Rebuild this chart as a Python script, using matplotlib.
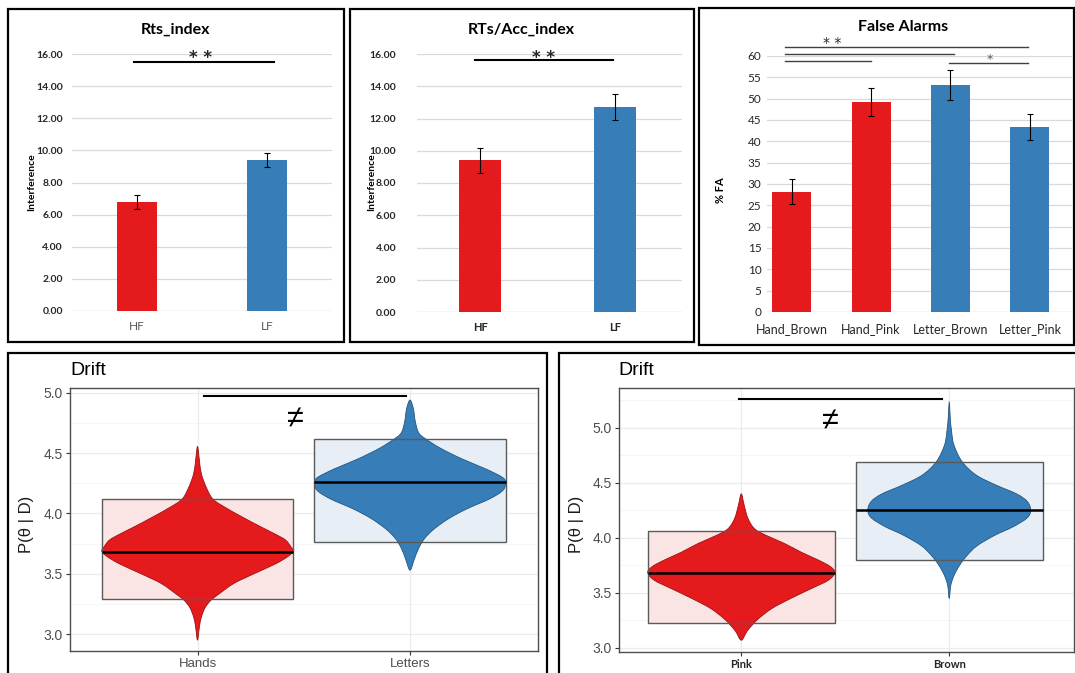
import numpy as np
import matplotlib
matplotlib.use("Agg")
import matplotlib.pyplot as plt
from matplotlib.patches import Rectangle, PathPatch
from matplotlib.path import Path

# ---------------- data ----------------
rts_groups = ["HF", "LF"]
rts_means = [6.8, 9.4]
rts_errs = [0.45, 0.45]

acc_groups = ["HF", "LF"]
acc_means = [9.4, 12.7]
acc_errs = [0.75, 0.8]

fa_groups = ["Hand_Brown", "Hand_Pink", "Letter_Brown", "Letter_Pink"]
fa_means = [28.2, 49.2, 53.2, 43.3]
fa_errs = [3.0, 3.2, 3.5, 3.0]

# Drift posteriors: summary (mean, HDI) and density profile (value, relative density)
task_groups = ["Hands", "Letters"]
task_means = [3.68, 4.26]
task_hdi_low = [3.29, 3.76]
task_hdi_high = [4.12, 4.62]

hands_vals = [2.95, 3.06, 3.14, 3.22, 3.28, 3.33, 3.42, 3.50, 3.58, 3.64, 3.685,
              3.72, 3.78, 3.83, 3.89, 3.97, 4.05, 4.12, 4.22, 4.33, 4.44, 4.555]
hands_dens = [0.0, 0.02, 0.04, 0.08, 0.14, 0.22, 0.38, 0.59, 0.81, 0.94, 1.0,
              0.98, 0.92, 0.81, 0.66, 0.47, 0.29, 0.16, 0.09, 0.04, 0.02, 0.0]

letters_vals = [3.53, 3.62, 3.71, 3.79, 3.87, 3.96, 4.04, 4.12, 4.19, 4.255,
                4.30, 4.37, 4.45, 4.54, 4.62, 4.67, 4.76, 4.87, 4.94]
letters_dens = [0.0, 0.045, 0.09, 0.15, 0.25, 0.41, 0.60, 0.83, 0.97, 1.0,
                0.965, 0.79, 0.55, 0.32, 0.16, 0.09, 0.056, 0.035, 0.0]

color_groups = ["Pink", "Brown"]
color_means = [3.68, 4.25]
color_hdi_low = [3.23, 3.80]
color_hdi_high = [4.06, 4.69]

pink_vals = [3.07, 3.15, 3.21, 3.27, 3.36, 3.45, 3.54, 3.615, 3.685, 3.74,
             3.80, 3.87, 3.95, 4.025, 4.085, 4.18, 4.30, 4.40]
pink_dens = [0.0, 0.06, 0.12, 0.19, 0.33, 0.53, 0.75, 0.93, 1.0, 0.95,
             0.82, 0.64, 0.46, 0.26, 0.14, 0.07, 0.03, 0.0]

brown_vals = [3.45, 3.57, 3.66, 3.75, 3.84, 3.93, 4.025, 4.10, 4.18, 4.25,
              4.33, 4.40, 4.48, 4.57, 4.69, 4.84, 4.96, 5.10, 5.24]
brown_dens = [0.0, 0.017, 0.052, 0.11, 0.19, 0.30, 0.49, 0.68, 0.83, 0.87,
              0.835, 0.72, 0.50, 0.29, 0.14, 0.052, 0.026, 0.01, 0.0]

# ---------------- style ----------------
RED = "#e41a1c"
BLUE = "#377eb8"
RED_EDGE = "#9c1214"
BLUE_EDGE = "#23557f"
HDI_FILL = ["#fbe4e4", "#e7eef6"]

W, H = 1075, 673
fig = plt.figure(figsize=(W / 100, H / 100), dpi=100)
fig.patch.set_facecolor("white")

XL = ["Lato", "DejaVu Sans"]
GG = ["Liberation Sans", "DejaVu Sans"]
STAR = ["DejaVu Sans"]


def add_ax(x0, y0, x1, y1):
    return fig.add_axes([x0 / W, 1 - y1 / H, (x1 - x0) / W, (y1 - y0) / H])


def ftext(x, y, s, **kw):
    return fig.text(x / W, 1 - y / H, s, **kw)


def frame(x0, y0, x1, y1, lw=1.6, ec="black"):
    fig.add_artist(Rectangle((x0 / W, 1 - y1 / H), (x1 - x0) / W, (y1 - y0) / H,
                             transform=fig.transFigure, fill=False, lw=lw, ec=ec))


def excel_bars(ax, groups, means, errs, width, colors):
    x = np.arange(len(groups))
    ax.bar(x, means, width=width, color=colors, zorder=2,
           yerr=errs, error_kw=dict(ecolor="black", elinewidth=0.8,
                                    capsize=2.5, capthick=0.8, zorder=3))
    ax.set_xticks(x, groups)
    ax.yaxis.grid(True, color="#d9d9d9", lw=0.9)
    ax.set_axisbelow(True)
    for s in ax.spines.values():
        s.set_visible(False)
    ax.axhline(0, color="#d9d9d9", lw=0.9, zorder=1)
    ax.tick_params(length=0)
    return x


# ---------------- panel frames ----------------
frame(7.5, 9, 344, 342)
frame(350, 9, 694, 342)
frame(699, 8, 1074, 345)
frame(8, 353, 547, 690)
frame(558.5, 353, 1090, 690)

# ---------------- Rts_index ----------------
ax1 = add_ax(72, 54, 332, 311)
excel_bars(ax1, rts_groups, rts_means, rts_errs, 0.31, [RED, BLUE])
ax1.set_xlim(-0.5, 1.5)
ax1.set_ylim(0, 16)
ax1.set_yticks(np.arange(0, 17, 2))
ax1.set_yticklabels([f"{v:.2f}" for v in np.arange(0, 17, 2)],
                    fontfamily=XL, fontweight="bold", fontsize=7.5, color="#262626")
ax1.tick_params(axis="y", pad=6.5)
ax1.tick_params(axis="x", pad=7, labelsize=8.5, labelcolor="#595959")
for t in ax1.get_xticklabels():
    t.set_fontfamily(XL)
ax1.plot([-0.02, 1.05], [15.5, 15.5], color="black", lw=1.5, clip_on=False)
ax1.text(0.49, 15.45, "* *", ha="center", va="baseline", fontsize=12,
         fontfamily=STAR, fontweight="bold", color="#262626")
ftext(176, 30, "Rts_index", ha="center", va="center", fontsize=11.5,
      fontweight="bold", fontfamily=XL)
ftext(32, 182, "Interference", ha="center", va="center", rotation=90,
      fontsize=7.5, fontweight="bold", fontfamily=XL)

# ---------------- RTs/Acc_index ----------------
ax2 = add_ax(417, 54, 682, 312)
excel_bars(ax2, acc_groups, acc_means, acc_errs, 0.31, [RED, BLUE])
ax2.set_xlim(-0.47, 1.5)
ax2.set_ylim(0, 16)
ax2.set_yticks(np.arange(0, 17, 2))
ax2.set_yticklabels([f"{v:.2f}" for v in np.arange(0, 17, 2)],
                    fontfamily=XL, fontweight="bold", fontsize=7.5, color="#262626")
ax2.tick_params(axis="y", pad=15)
ax2.tick_params(axis="x", pad=7, labelsize=8, labelcolor="#262626")
for t in ax2.get_xticklabels():
    t.set_fontfamily(XL)
    t.set_fontweight("bold")
ax2.plot([-0.04, 0.99], [15.6, 15.6], color="black", lw=1.5, clip_on=False)
ax2.text(0.47, 15.47, "* *", ha="center", va="baseline", fontsize=12,
         fontfamily=STAR, fontweight="bold", color="#262626")
ftext(521, 30, "RTs/Acc_index", ha="center", va="center", fontsize=11.5,
      fontweight="bold", fontfamily=XL)
ftext(372, 182, "Interference", ha="center", va="center", rotation=90,
      fontsize=7.5, fontweight="bold", fontfamily=XL)

# ---------------- False Alarms ----------------
ax3 = add_ax(767, 56, 1072, 312)
excel_bars(ax3, fa_groups, fa_means, fa_errs, 0.49, [RED, RED, BLUE, BLUE])
ax3.set_xlim(-0.31, 3.53)
ax3.set_ylim(0, 60)
ax3.set_yticks(np.arange(0, 61, 5))
ax3.tick_params(axis="y", pad=4, labelsize=8.5, labelcolor="#262626")
ax3.tick_params(axis="x", pad=8, labelsize=9, labelcolor="#262626")
for t in ax3.get_xticklabels() + ax3.get_yticklabels():
    t.set_fontfamily(XL)
sig_col = "#404040"
ax3.plot([-0.08, 2.97], [62.2, 62.2], color=sig_col, lw=1.0, clip_on=False)
ax3.plot([-0.08, 2.05], [60.4, 60.4], color=sig_col, lw=1.0, clip_on=False)
ax3.plot([-0.08, 1.0], [58.8, 58.8], color=sig_col, lw=1.0, clip_on=False)
ax3.plot([1.98, 2.97], [58.3, 58.3], color=sig_col, lw=1.0, clip_on=False)
ax3.text(0.51, 62.0, "* *", ha="center", va="baseline", fontsize=10,
         fontfamily=STAR, color="#262626")
ax3.text(2.5, 58.4, "*", ha="center", va="baseline", fontsize=9,
         fontfamily=STAR, color="#595959")
ftext(903, 27, "False Alarms", ha="center", va="center", fontsize=11.5,
      fontweight="bold", fontfamily=XL)
ftext(720, 190, "% FA", ha="center", va="center", rotation=90,
      fontsize=8, fontweight="bold", fontfamily=XL)


# ---------------- Drift violins ----------------
def smooth_closed(pts):
    """Closed Catmull-Rom curve through pts as a cubic Bezier path."""
    n = len(pts)
    verts = [pts[0]]
    codes = [Path.MOVETO]
    for i in range(n):
        p0 = pts[(i - 1) % n]
        p1 = pts[i]
        p2 = pts[(i + 1) % n]
        p3 = pts[(i + 2) % n]
        c1 = p1 + (p2 - p0) / 6.0
        c2 = p2 - (p3 - p1) / 6.0
        verts += [c1, c2, p2]
        codes += [Path.CURVE4] * 3
    verts.append(pts[0])
    codes.append(Path.CLOSEPOLY)
    return Path(np.array(verts), codes)


def violin(ax, x0, vals, dens, half_width, face, edge):
    vals = np.asarray(vals, float)
    dens = np.asarray(dens, float)
    right = np.column_stack([x0 + half_width * dens, vals])
    left = np.column_stack([x0 - half_width * dens, vals])[::-1]
    pts = np.vstack([right[:-1], left[:-1]])
    ax.add_patch(PathPatch(smooth_closed(pts), facecolor=face, edgecolor=edge,
                           lw=0.6, zorder=3))


def drift_panel(ax, groups, means, lows, highs, profiles, xlim, ylim):
    ax.set_xlim(*xlim)
    ax.set_ylim(*ylim)
    x = np.arange(len(groups))
    hw = 0.45
    for i, (vals, dens) in enumerate(profiles):
        ax.add_patch(Rectangle((x[i] - hw, lows[i]), 2 * hw, highs[i] - lows[i],
                               facecolor=HDI_FILL[i], edgecolor="none", zorder=1.5))
        violin(ax, x[i], vals, dens, hw, [RED, BLUE][i], [RED_EDGE, BLUE_EDGE][i])
        ax.add_patch(Rectangle((x[i] - hw, lows[i]), 2 * hw, highs[i] - lows[i],
                               facecolor="none", edgecolor="#5a5a5a", lw=1.0, zorder=4))
        ax.plot([x[i] - hw, x[i] + hw], [means[i], means[i]], color="black",
                lw=1.8, zorder=5, solid_capstyle="butt")
    ax.set_xticks(x, groups)
    ax.set_yticks([3.0, 3.5, 4.0, 4.5, 5.0])
    ax.set_yticks(np.arange(3.25, ylim[1], 0.5), minor=True)
    ax.grid(True, which="major", color="#ebebeb", lw=0.9, zorder=0)
    ax.yaxis.grid(True, which="minor", color="#f3f3f3", lw=0.5, zorder=0)
    ax.set_axisbelow(True)
    for s in ax.spines.values():
        s.set_color("#4d4d4d")
        s.set_linewidth(1.0)
    ax.tick_params(which="major", length=3, color="#333333", width=0.8,
                   labelcolor="#4d4d4d", labelsize=10, pad=2)
    ax.tick_params(which="minor", length=0)
    for t in ax.get_yticklabels() + ax.get_xticklabels():
        t.set_fontfamily(GG)
    return x


# Task
ax4 = add_ax(70, 388, 537.5, 651)
drift_panel(ax4, task_groups, task_means, task_hdi_low, task_hdi_high,
            [(hands_vals, hands_dens), (letters_vals, letters_dens)],
            (-0.6, 1.6), (2.86, 5.04))
ax4.tick_params(axis="x", labelsize=9.5)
ax4.plot([0.03, 0.98], [4.97, 4.97], color="black", lw=1.5, zorder=6)
ax4.text(0.46, 4.79, "\u2260", ha="center", va="center", fontsize=22,
         fontfamily=GG, zorder=6)
ftext(70, 370, "Drift", ha="left", va="center", fontsize=14, fontfamily=GG)
ftext(27, 524, "P(\u03b8 | D)", ha="center", va="center", rotation=90,
      fontsize=12, fontfamily=GG, color="#1a1a1a")

# Colour
ax5 = add_ax(618.6, 388.3, 1074, 652.3)
drift_panel(ax5, color_groups, color_means, color_hdi_low, color_hdi_high,
            [(pink_vals, pink_dens), (brown_vals, brown_dens)],
            (-0.59, 1.6), (2.96, 5.36))
for t in ax5.get_xticklabels():
    t.set_fontfamily(XL)
    t.set_fontweight("bold")
    t.set_fontsize(8)
    t.set_color("#262626")
ax5.plot([-0.01, 0.965], [5.26, 5.26], color="black", lw=1.5, zorder=6)
ax5.text(0.43, 5.07, "\u2260", ha="center", va="center", fontsize=22,
         fontfamily=GG, zorder=6)
ftext(618.6, 370, "Drift", ha="left", va="center", fontsize=14, fontfamily=GG)
ftext(577, 524, "P(\u03b8 | D)", ha="center", va="center", rotation=90,
      fontsize=12, fontfamily=GG, color="#1a1a1a")

fig.savefig("out.png", dpi=100, facecolor="white")
